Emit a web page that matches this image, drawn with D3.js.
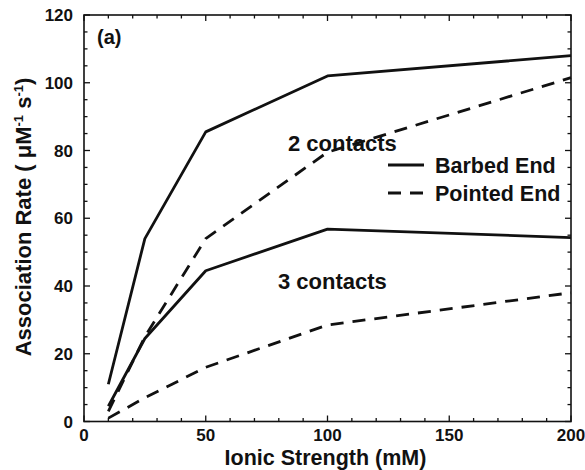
<!DOCTYPE html>
<html>
<head>
<meta charset="utf-8">
<script src="https://cdn.jsdelivr.net/npm/d3@7"></script>
<style>
  html, body { margin: 0; padding: 0; background: #fff; }
  svg { display: block; }
  text { font-family: "Liberation Sans", Arial, Helvetica, sans-serif; font-weight: bold; fill: #111; }
</style>
</head>
<body>
<svg id="chart" width="585" height="470"></svg>
<script>
// Ionic strength (mM) at which the association rates were computed
const ionicStrength = [10, 25, 50, 100, 200];

// Association rates (µM^-1 s^-1)
const barbed2 = [11, 54, 85.5, 102, 108];
const pointed2 = [3, 25, 54, 79.5, 101.5];
const barbed3 = [4.5, 24.5, 44.5, 56.8, 54.3];
const pointed3 = [1, 7, 16, 28.5, 38];

const xTicks = [0, 50, 100, 150, 200];
const yTicks = [0, 20, 40, 60, 80, 100, 120];

const series = [
  { name: "Barbed End", values: barbed2, dashed: false },
  { name: "Pointed End", values: pointed2, dashed: true },
  { name: "Barbed End", values: barbed3, dashed: false },
  { name: "Pointed End", values: pointed3, dashed: true }
];

const svg = d3.select("#chart");
const plotL = 84, plotR = 571, plotT = 15, plotB = 421.5;

const x = d3.scaleLinear().domain([0, 200]).range([plotL, plotR]);
const y = d3.scaleLinear().domain([0, 120]).range([plotB, plotT]);

const DASH = "13,9";

// Frame
svg.append("rect")
  .attr("x", plotL).attr("y", plotT)
  .attr("width", plotR - plotL).attr("height", plotB - plotT)
  .attr("fill", "none").attr("stroke", "#111").attr("stroke-width", 1.6);

// Inward ticks on all four sides: major + minor
const xMinor = d3.range(0, 201, 10);
const yMinor = d3.range(0, 121, 5);
const tickG = svg.append("g").attr("stroke", "#111").attr("stroke-width", 1.3);
xMinor.forEach(v => {
  const len = v % 50 === 0 ? 6 : 3.5;
  tickG.append("line").attr("x1", x(v)).attr("x2", x(v)).attr("y1", plotB).attr("y2", plotB - len);
  tickG.append("line").attr("x1", x(v)).attr("x2", x(v)).attr("y1", plotT).attr("y2", plotT + len);
});
yMinor.forEach(v => {
  const len = v % 20 === 0 ? 6 : 3.5;
  tickG.append("line").attr("y1", y(v)).attr("y2", y(v)).attr("x1", plotL).attr("x2", plotL + len);
  tickG.append("line").attr("y1", y(v)).attr("y2", y(v)).attr("x1", plotR).attr("x2", plotR - len);
});

// Tick labels
svg.append("g").selectAll("text").data(xTicks).join("text")
  .attr("x", d => x(d)).attr("y", 441)
  .attr("text-anchor", "middle").attr("font-size", 17)
  .text(d => d);
svg.append("g").selectAll("text").data(yTicks).join("text")
  .attr("x", 73).attr("y", d => y(d) + 6)
  .attr("text-anchor", "end").attr("font-size", 17)
  .text(d => d);

// Axis titles
svg.append("text")
  .attr("x", (plotL + plotR) / 2 - 2).attr("y", 465)
  .attr("text-anchor", "middle").attr("font-size", 21.5)
  .text("Ionic Strength (mM)");

const yTitle = svg.append("text")
  .attr("transform", "translate(31,217) rotate(-90)")
  .attr("text-anchor", "middle").attr("font-size", 22);
yTitle.append("tspan").text("Association Rate ( \u03BCM");
yTitle.append("tspan").attr("font-size", 13).attr("dy", -8).text("-1");
yTitle.append("tspan").attr("dy", 8).text(" s");
yTitle.append("tspan").attr("font-size", 13).attr("dy", -8).text("-1");
yTitle.append("tspan").attr("dy", 8).text(")");

// Data lines
const line = d3.line().x((d, i) => x(ionicStrength[i])).y(d => y(d));
svg.append("g").selectAll("path").data(series).join("path")
  .attr("d", d => line(d.values))
  .attr("fill", "none").attr("stroke", "#111")
  .attr("stroke-width", 2.8)
  .attr("stroke-linejoin", "round")
  .attr("stroke-dasharray", d => d.dashed ? DASH : null);

// Annotations
svg.append("text").attr("x", 97).attr("y", 44).attr("font-size", 20).text("(a)");
svg.append("text").attr("x", 288).attr("y", 151).attr("font-size", 22).text("2 contacts");
svg.append("text").attr("x", 278).attr("y", 289).attr("font-size", 22).text("3 contacts");

// Legend
const legendItems = [series[0], series[1]];
const lg = svg.append("g").selectAll("g").data(legendItems).join("g")
  .attr("transform", (d, i) => `translate(0,${165 + i * 28})`);
lg.append("line")
  .attr("x1", 388).attr("x2", 424).attr("y1", 0).attr("y2", 0)
  .attr("stroke", "#111").attr("stroke-width", 2.8)
  .attr("stroke-dasharray", d => d.dashed ? DASH : null);
lg.append("text")
  .attr("x", 435).attr("y", 7.5).attr("font-size", 21.5)
  .text(d => d.name);
</script>
</body>
</html>
